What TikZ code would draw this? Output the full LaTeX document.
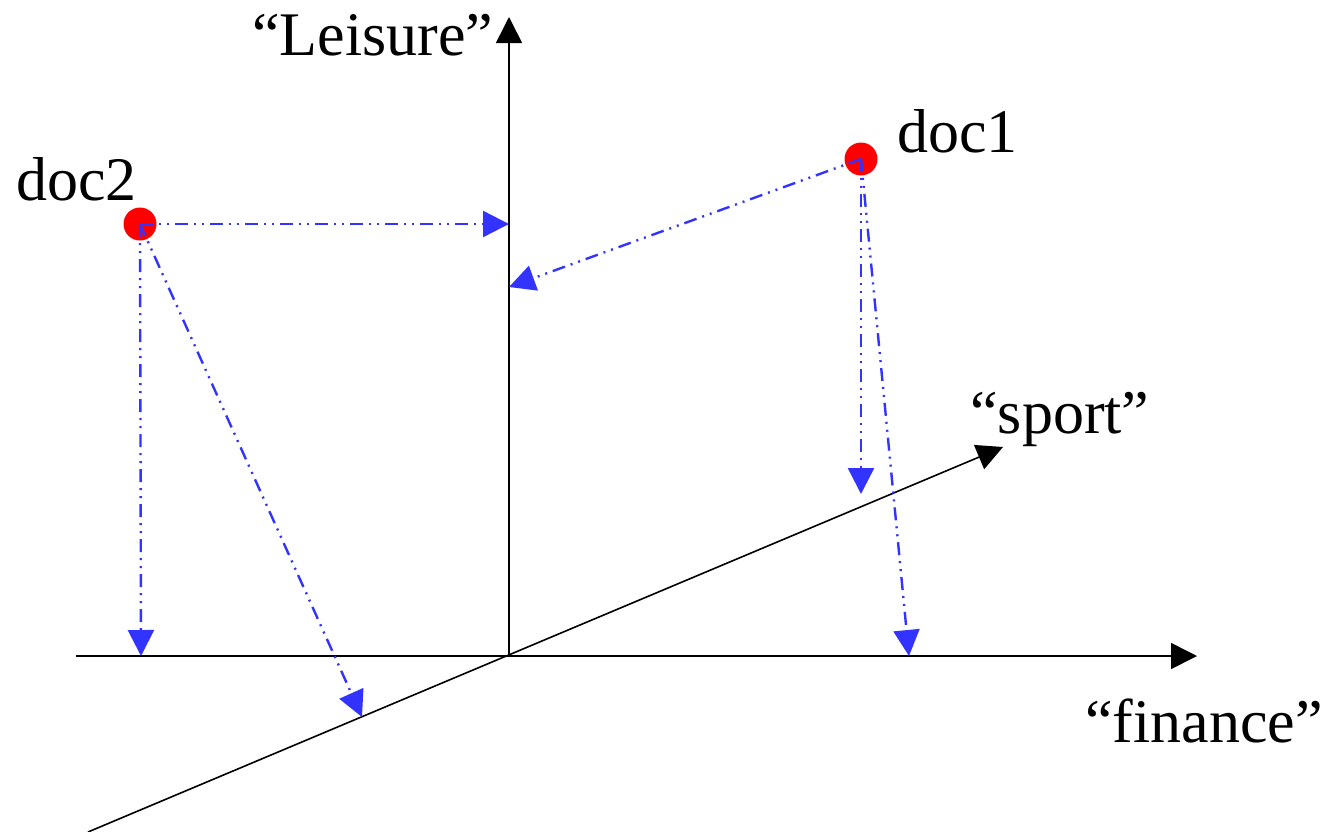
\documentclass[tikz,border=0pt]{standalone}
\usepackage{fontspec}
\setmainfont{Liberation Serif}
\usetikzlibrary{arrows.meta,positioning}
\definecolor{projblue}{RGB}{51,51,255}

\begin{document}
\begin{tikzpicture}[x=0.5pt, y=-0.5pt,
  axis/.style={line width=0.8pt, -{Triangle[length=13pt, width=13pt]}},
  proj/.style={projblue, line width=1.2pt, dash pattern=on 6.5pt off 3pt on 1pt off 3pt on 1pt off 3pt, -{Triangle[length=13pt, width=13pt]}},
  docdot/.style={circle, fill=red, inner sep=0pt, minimum size=16.5pt},
  lbl/.style={anchor=base west, inner sep=0pt, font=\fontsize{31}{37}\selectfont}
]
\useasboundingbox (0,0) rectangle (1329,831);

\coordinate (O) at (509,656);
\coordinate (ytop) at (509,17);
\coordinate (xleft) at (76,656);
\coordinate (xright) at (1197,656);
\coordinate (zlow) at (88,832);
\coordinate (ztop) at (1003,447);

\draw[axis] (O) -- (ytop);
\draw[axis] (xleft) -- (xright);
\draw[axis] (zlow) -- (ztop);

\node[lbl] (leisure) at (252,55) {``Leisure''};
\node[lbl] (sport) at (970,433) {``sport''};
\node[lbl] (finance) at (1085,742) {``finance''};

\node[docdot] (d1) at (861,159) {};
\node[docdot] (d2) at (140,224) {};
\node[lbl] (d1lbl) at (897,152) {doc1};
\node[lbl] (d2lbl) at (16,200) {doc2};

\coordinate (d2y) at (509,224);
\coordinate (d2x) at (141,656);
\coordinate (d2z) at (362,717);
\coordinate (d1y) at (509,287);
\coordinate (d1v) at (861,494);
\coordinate (d1x) at (909,656);

\draw[proj] (d2.center) -- (d2y);
\draw[proj] (d2.center) -- (d2x);
\draw[proj] (d2.center) -- (d2z);
\draw[proj] (d1.center) -- (d1y);
\draw[proj] (d1.center) -- (d1v);
\draw[proj] (d1.center) -- (d1x);
\end{tikzpicture}
\end{document}
